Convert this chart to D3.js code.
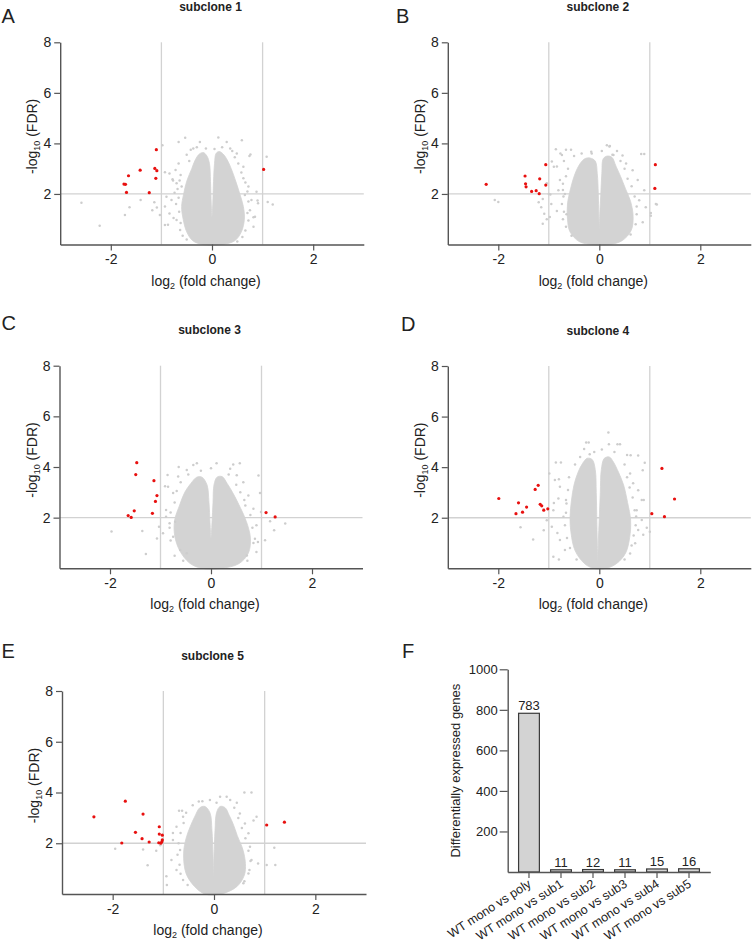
<!DOCTYPE html>
<html>
<head>
<meta charset="utf-8">
<script src="https://cdn.jsdelivr.net/npm/d3@7/dist/d3.min.js"></script>
<style>
  html, body { margin: 0; padding: 0; background: #fff; }
  svg { display: block; }
  text { font-family: "Liberation Sans", Arial, sans-serif; fill: #222; }
</style>
</head>
<body>
<svg id="fig" width="753" height="945"></svg>
<script>
// ---------------- DATA ----------------
const panelTitles = ["subclone 1", "subclone 2", "subclone 3", "subclone 4", "subclone 5"];
const panelLetters = ["A", "B", "C", "D", "E", "F"];
const xTickValues = [-2, 0, 2];
const yTickValues = [2, 4, 6, 8];

// dense-cloud outlines [log2FC, -log10FDR]
const cloud1 = [[-0.18,0],[-0.38,0.15],[-0.5,0.5],[-0.57,1.0],[-0.6,1.5],[-0.56,2.0],[-0.5,2.5],[-0.4,3.0],[-0.33,3.35],[-0.25,3.58],[-0.17,3.64],[-0.1,3.5],[-0.05,3.2],[-0.03,2.5],[-0.015,1.6],[0,1.1],[0.015,1.6],[0.03,2.5],[0.05,3.2],[0.08,3.6],[0.14,3.68],[0.22,3.58],[0.3,3.35],[0.38,3.0],[0.47,2.5],[0.55,2.0],[0.62,1.5],[0.64,1.0],[0.58,0.5],[0.45,0.15],[0.2,0]];
const cloud2 = [[-0.15,0],[-0.4,0.12],[-0.58,0.5],[-0.63,1.0],[-0.63,1.6],[-0.57,2.2],[-0.48,2.8],[-0.38,3.2],[-0.28,3.4],[-0.18,3.42],[-0.08,3.3],[-0.04,2.8],[-0.02,2.0],[-0.01,1.2],[0,0.6],[0.01,1.2],[0.03,2.0],[0.05,2.8],[0.08,3.4],[0.16,3.5],[0.25,3.45],[0.33,3.1],[0.42,2.7],[0.52,2.2],[0.62,1.7],[0.67,1.1],[0.63,0.55],[0.45,0.15],[0.2,0]];
const cloud3 = [[-0.18,0],[-0.42,0.2],[-0.62,0.7],[-0.72,1.3],[-0.72,1.9],[-0.62,2.5],[-0.52,3.0],[-0.4,3.35],[-0.28,3.6],[-0.18,3.6],[-0.08,3.3],[-0.04,2.6],[-0.02,1.8],[0,1.2],[0.02,1.8],[0.04,2.6],[0.06,3.3],[0.12,3.6],[0.22,3.62],[0.32,3.35],[0.44,2.95],[0.58,2.4],[0.7,1.85],[0.78,1.2],[0.74,0.6],[0.55,0.18],[0.2,0]];
const cloud4 = [[-0.12,0],[-0.3,0.2],[-0.48,0.7],[-0.56,1.4],[-0.58,2.0],[-0.55,2.7],[-0.5,3.3],[-0.42,3.8],[-0.33,4.15],[-0.24,4.35],[-0.14,4.3],[-0.08,3.9],[-0.06,3.0],[-0.05,2.0],[-0.04,1.0],[-0.03,0.3],[-0.02,1.0],[0.0,2.0],[0.02,3.0],[0.04,3.9],[0.1,4.35],[0.2,4.4],[0.28,4.2],[0.38,3.8],[0.48,3.3],[0.56,2.6],[0.62,1.9],[0.6,1.2],[0.52,0.6],[0.35,0.2],[0.14,0]];
const cloud5 = [[-0.18,0],[-0.38,0.29],[-0.55,0.8],[-0.6,1.6],[-0.55,2.2],[-0.47,2.65],[-0.38,3.05],[-0.28,3.4],[-0.18,3.45],[-0.08,3.2],[-0.04,2.5],[-0.02,1.5],[-0.01,0.7],[0.0,1.5],[0.02,2.5],[0.05,3.2],[0.12,3.45],[0.22,3.4],[0.3,3.1],[0.38,2.75],[0.46,2.3],[0.57,1.75],[0.62,1.2],[0.6,0.75],[0.45,0.29],[0.14,0]];

// scattered non-significant genes (grey)
const grey1 = [[-2.58,1.65],[-2.22,0.74],[-1.41,1.76],[-1.63,1.47],[-1.72,1.17],[-1.14,1.67],[-1.09,1.46],[-1.18,1.36],[-0.98,3.93],[-1.03,1.17],[-0.53,4.22],[-0.66,4.06],[0.125,4.23],[0.59,4.12],[0.76,3.56],[1.08,3.47],[1.2,1.58],[1.1,1.68],[0.9,1.74],[0.82,1.08],[-0.93,2.86],[-0.77,2.53],[-0.87,0.78],[0.74,3.5],[-0.84,2.81],[-0.78,2.58],[-0.7,2.42],[-0.64,2.53],[-0.6,2.29],[-0.9,1.89],[-0.8,1.76],[-0.93,1.5],[-0.84,1.23],[-0.7,0.97],[-0.93,0.77],[-0.63,0.57],[0.62,2.62],[0.72,2.29],[0.65,1.96],[0.78,1.76],[0.88,2.09],[0.75,1.36],[0.85,1.1],[0.91,1.63],[0.82,0.7],[0.62,3.08],[0.49,3.6],[-0.37,3.8],[-0.24,4.06],[0.29,4.06],[0.36,3.8],
  [-0.66,3.2],[-0.72,2.95],[-0.62,2.75],[-0.68,2.2],[-0.74,2.05],[-0.66,1.85],[-0.71,1.6],[-0.65,1.3],[-0.76,1.05],[-0.62,0.85],[-0.58,0.35],[-0.5,0.2],[-0.45,3.3],[-0.5,3.55],[-0.42,3.75],[-0.3,3.85],[0.45,3.45],[0.52,3.2],[0.58,2.85],[0.66,2.45],[0.7,2.1],[0.72,1.7],[0.7,1.25],[0.72,0.95],[0.66,0.55],[0.6,0.3],[0.5,0.12],[0.4,3.7],[0.2,3.85],[0.05,3.78],[-0.12,3.8]];
const grey2 = [[-2.07,1.76],[-2.0,1.68],[-0.86,3.77],[-0.66,3.75],[-0.56,3.75],[-0.77,3.6],[0.2,3.88],[0.26,3.55],[0.46,3.52],[0.83,3.58],[0.89,3.58],[1.14,1.58],[1.02,1.25],[0.86,0.88],[-1.12,0.82],[-1.09,1.22],[-1.2,1.67],[-0.98,1.09],[-0.9,3.08],[-0.97,1.98],[-0.72,2.16],[-0.16,3.67],[-0.15,3.6],[-0.74,3.54],[-0.94,3.28],[-0.84,3.09],[-1.04,2.42],[-1.0,2.0],[-1.12,1.8],[-1.15,1.47],[-0.95,1.6],[-0.84,1.33],[-1.04,1.0],[-0.78,2.55],[-0.81,2.15],[-0.71,1.9],[-0.65,1.2],[0.15,3.93],[0.21,3.9],[0.28,3.54],[0.53,3.2],[0.66,2.94],[0.76,2.55],[0.89,2.15],[0.79,1.75],[0.92,1.47],[1.02,1.14],[1.12,1.6],
  [-0.7,3.3],[-0.62,3.0],[-0.66,2.7],[-0.72,2.4],[-0.68,2.0],[-0.74,1.6],[-0.7,1.3],[-0.72,1.0],[-0.66,0.7],[-0.55,0.35],[-0.5,3.5],[-0.35,3.6],[0.42,3.3],[0.5,3.0],[0.56,2.6],[0.64,2.3],[0.7,1.9],[0.74,1.5],[0.74,1.2],[0.72,0.8],[0.62,0.4],[0.35,3.7],[0.05,3.7]];
const grey3 = [[-1.97,1.45],[-1.36,1.47],[-1.29,0.56],[-1.07,1.18],[-1.03,1.64],[-0.86,3.68],[-0.85,3.22],[-0.64,4.0],[-0.28,4.15],[0.11,4.15],[0.44,4.1],[0.57,4.15],[0.94,3.66],[0.97,2.97],[0.99,2.22],[1.17,1.86],[1.25,1.5],[1.47,1.77],[1.07,1.11],[0.93,1.04],[-0.89,2.3],[-0.71,1.84],[-0.91,3.24],[-0.75,2.97],[-0.89,2.04],[-0.82,1.78],[-0.95,1.38],[-0.75,1.25],[-0.61,0.72],[-0.48,0.59],[-0.65,3.62],[-0.48,3.88],[-0.35,4.08],[0.38,3.93],[0.51,3.67],[0.64,3.4],[0.74,2.87],[0.84,2.35],[0.9,1.7],[0.87,1.17],[0.9,0.64],[0.71,0.51],[0.68,2.48],
  [-0.6,3.4],[-0.68,3.05],[-0.72,2.6],[-0.8,2.2],[-0.82,1.6],[-0.8,1.1],[-0.72,0.5],[-0.55,0.3],[-0.45,3.7],[-0.2,3.85],[0.35,3.7],[0.5,3.3],[0.58,3.0],[0.66,2.7],[0.78,2.1],[0.82,1.6],[0.84,1.0],[0.72,0.3],[0.0,3.95]];
const grey4 = [[0.18,5.37],[-0.26,4.97],[-0.21,4.97],[0.19,4.91],[0.36,4.91],[0.41,4.91],[-0.3,4.72],[-0.19,4.51],[0.55,4.48],[0.62,4.47],[0.77,4.46],[0.9,4.17],[0.86,3.88],[-0.86,4.18],[-0.76,4.18],[-0.99,3.75],[-0.8,3.52],[-1.56,1.62],[-1.31,1.14],[-1.1,1.5],[-1.04,1.9],[-0.83,1.4],[-0.8,0.35],[0.87,1.33],[0.94,1.6],[1.0,1.45],[0.88,2.7],[0.73,2.05],[-0.9,2.58],[-0.88,3.49],[-0.78,3.22],[-0.81,2.76],[-0.91,2.3],[-0.71,2.04],[-0.94,1.64],[-0.78,1.12],[-0.68,0.72],[-0.65,2.56],[0.61,3.75],[0.67,3.36],[0.77,3.09],[0.84,2.7],[0.74,2.3],[0.84,1.91],[0.77,1.51],[0.71,0.99],[0.61,0.59],[-0.91,0.46],
  [-0.6,3.6],[-0.62,3.1],[-0.66,2.7],[-0.66,2.2],[-0.68,1.7],[-0.64,1.2],[-0.58,0.8],[-0.45,0.35],[-0.48,4.1],[-0.38,4.4],[-0.1,4.6],[0.5,4.1],[0.55,3.6],[0.6,3.2],[0.66,2.8],[0.7,2.3],[0.72,1.7],[0.68,1.3],[0.64,0.9],[0.5,0.35],[0.3,4.6],[0.05,4.7]];
const grey5 = [[0.6,4.0],[0.74,4.0],[0.12,3.83],[0.25,3.83],[-0.23,3.66],[-0.69,3.28],[-0.63,3.28],[0.84,3.04],[0.78,2.9],[1.19,1.82],[1.21,1.14],[1.04,1.14],[0.87,1.2],[-1.31,1.13],[-1.4,1.75],[-1.14,1.7],[-1.06,1.92],[-0.94,0.7],[-0.93,0.35],[-0.81,2.4],[-1.95,1.78],[-0.61,3.04],[-0.74,2.65],[-0.81,2.13],[-0.67,1.73],[-0.84,1.34],[-0.74,0.95],[-0.61,0.55],[0.51,3.17],[0.61,2.78],[0.68,2.39],[0.71,1.86],[0.74,1.34],[0.68,0.81],[0.58,0.42],[0.32,3.7],[-0.08,3.7],
  [-0.55,3.2],[-0.6,2.8],[-0.66,2.4],[-0.7,2.0],[-0.72,1.55],[-0.68,1.15],[-0.66,0.8],[-0.52,0.35],[-0.42,3.5],[-0.3,3.65],[0.4,3.4],[0.48,3.0],[0.55,2.6],[0.62,2.2],[0.68,1.7],[0.72,1.3],[0.7,0.95],[0.6,0.5],[0.45,3.6],[0.05,3.6]];

// significant genes (red)
const red1 = [[-1.10,3.75],[-1.42,2.94],[-1.65,2.72],[-1.74,2.39],[-1.71,2.38],[-1.69,2.06],[-1.24,2.05],[-1.13,3.01],[-1.09,2.92],[-1.11,2.62],[1.02,2.97]];
const red2 = [[-2.24,2.38],[-1.47,2.71],[-1.46,2.40],[-1.45,2.28],[-1.34,2.10],[-1.25,2.13],[-1.19,2.01],[-1.18,2.60],[-1.06,3.16],[-1.06,2.35],[1.11,3.16],[1.10,2.22]];
const red3 = [[-1.47,4.17],[-1.49,3.70],[-1.13,3.46],[-1.07,2.87],[-1.10,2.64],[-1.16,2.17],[-1.52,2.27],[-1.64,2.08],[-1.58,2.01],[1.09,2.20],[1.27,2.03]];
const red4 = [[-1.99,2.76],[-1.60,2.59],[-1.65,2.16],[-1.52,2.22],[-1.44,2.42],[-1.27,3.12],[-1.21,3.28],[-1.17,2.53],[-1.14,2.47],[-1.10,2.30],[-1.02,2.35],[1.24,3.95],[1.49,2.74],[1.04,2.16],[1.29,2.04]];
const red5 = [[-2.37,3.04],[-1.75,3.66],[-1.40,3.15],[-1.55,2.43],[-1.42,2.18],[-1.28,2.05],[-1.82,2.01],[-1.08,2.65],[-1.08,2.36],[-1.02,2.32],[-1.02,2.13],[-1.09,2.02],[-1.03,2.06],[-1.05,2.00],[1.04,2.72],[1.39,2.83]];

// bar chart (F)
const barCategories = ["WT mono vs poly", "WT mono vs sub1", "WT mono vs sub2", "WT mono vs sub3", "WT mono vs sub4", "WT mono vs sub5"];
const barValues = [783, 11, 12, 11, 15, 16];
const barTickValues = [200, 400, 600, 800, 1000];

// ---------------- LAYOUT ----------------
const svg = d3.select("#fig");
const volcanoLayout = [
  {x0: 60.2, x1: 363.8, yt: 42.3, yb: 244.5, lx: 1.5, ly: 23.3},
  {x0: 447.8, x1: 750.8, yt: 42.3, yb: 244.5, lx: 396, ly: 22.7},
  {x0: 59.5, x1: 362.5, yt: 365.7, yb: 568.3, lx: 1.5, ly: 330},
  {x0: 447.8, x1: 750.8, yt: 366, yb: 568.3, lx: 401, ly: 330.5},
  {x0: 62, x1: 366, yt: 691, yb: 894, lx: 1.5, ly: 658.3}
];
const clouds = [cloud1, cloud2, cloud3, cloud4, cloud5];
const greys = [grey1, grey2, grey3, grey4, grey5];
const reds = [red1, red2, red3, red4, red5];

const axisColor = "#555";
const refColor = "#d2d2d2";
const cloudColor = "#d3d3d3";

function styleAxis(g, fontSize) {
  g.select(".domain").attr("stroke", axisColor).attr("stroke-width", 1.4);
  g.selectAll(".tick line").attr("stroke", axisColor).attr("stroke-width", 1.2);
  g.selectAll(".tick text").attr("fill", "#222").attr("font-size", fontSize)
    .attr("font-family", '"Liberation Sans", Arial, sans-serif');
}

volcanoLayout.forEach((L, i) => {
  const x = d3.scaleLinear().domain([-3, 3]).range([L.x0, L.x1]);
  const y = d3.scaleLinear().domain([0, 8]).range([L.yb, L.yt]);
  const g = svg.append("g");

  // reference lines
  g.append("line").attr("x1", L.x0).attr("x2", L.x1).attr("y1", y(2)).attr("y2", y(2))
    .attr("stroke", refColor).attr("stroke-width", 1.3);
  [-1, 1].forEach(v => {
    g.append("line").attr("x1", x(v)).attr("x2", x(v)).attr("y1", y(8)).attr("y2", y(0))
      .attr("stroke", refColor).attr("stroke-width", 1.3);
  });

  // dense cloud
  const line = d3.line().x(d => x(d[0])).y(d => y(d[1])).curve(d3.curveCatmullRomClosed.alpha(0.5));
  g.append("path").attr("d", line(clouds[i])).attr("fill", cloudColor).attr("stroke", cloudColor).attr("stroke-width", 0.8);

  // scattered grey
  g.selectAll(".gp").data(greys[i]).enter().append("circle")
    .attr("cx", d => x(d[0])).attr("cy", d => y(d[1])).attr("r", 1.25).attr("fill", "#cdcdcd");

  // red
  g.selectAll(".rp").data(reds[i]).enter().append("circle")
    .attr("cx", d => x(d[0])).attr("cy", d => y(d[1])).attr("r", 1.6).attr("fill", "#e8100f");

  // axes
  const ya = g.append("g").attr("transform", `translate(${L.x0},0)`)
    .call(d3.axisLeft(y).tickValues(yTickValues).tickSize(6).tickSizeOuter(0).tickPadding(3).tickFormat(d3.format("d")));
  styleAxis(ya, 14);
  const xa = g.append("g").attr("transform", `translate(0,${L.yb})`)
    .call(d3.axisBottom(x).tickValues(xTickValues).tickSize(6).tickSizeOuter(0).tickPadding(4).tickFormat(d => d < 0 ? "-" + Math.abs(d) : String(d)));
  styleAxis(xa, 14);

  // title
  g.append("text").attr("x", x(0) - 1.5).attr("y", L.yt - 31.5).attr("text-anchor", "middle")
    .attr("font-size", 12).attr("font-weight", "bold").text(panelTitles[i]);
  // letter
  g.append("text").attr("x", L.lx).attr("y", L.ly).attr("font-size", 20).text(panelLetters[i]);

  // x label
  const xl = g.append("text").attr("x", x(0) - 6).attr("y", L.yb + 41).attr("text-anchor", "middle").attr("font-size", 14);
  xl.append("tspan").text("log");
  xl.append("tspan").attr("dy", 3).attr("font-size", 9).text("2");
  xl.append("tspan").attr("dy", -3).text(" (fold change)");

  // y label
  const cy = (L.yt + L.yb) / 2 - 7;
  const yl = g.append("text").attr("transform", `translate(${L.x0 - 23},${cy}) rotate(-90)`)
    .attr("text-anchor", "middle").attr("font-size", 14);
  yl.append("tspan").text("-log");
  yl.append("tspan").attr("dy", 3).attr("font-size", 9).text("10");
  yl.append("tspan").attr("dy", -3).text(" (FDR)");
});

// ---------------- BAR CHART F ----------------
(function () {
  const X0 = 507.7, X1 = 710.3, YT = 669.3, YB = 872;
  const x = d3.scaleBand().domain(barCategories).range([X0, X1]).paddingInner(0.35).paddingOuter(0.34);
  const y = d3.scaleLinear().domain([0, 1000]).range([YB, YT]);
  const g = svg.append("g");

  g.selectAll(".bar").data(barValues).enter().append("rect")
    .attr("x", (d, i) => x(barCategories[i])).attr("width", x.bandwidth())
    .attr("y", d => y(d)).attr("height", d => YB - y(d))
    .attr("fill", "#d3d3d3").attr("stroke", "#3a3a3a").attr("stroke-width", 1.2);

  g.selectAll(".bl").data(barValues).enter().append("text")
    .attr("x", (d, i) => x(barCategories[i]) + x.bandwidth() / 2)
    .attr("y", d => y(d) - 3).attr("text-anchor", "middle").attr("font-size", 13).text(d => d);

  const ya = g.append("g").attr("transform", `translate(${X0},0)`)
    .call(d3.axisLeft(y).tickValues(barTickValues).tickSize(8).tickSizeOuter(0).tickPadding(2).tickFormat(d3.format("d")));
  styleAxis(ya, 13);

  const xa = g.append("g").attr("transform", `translate(0,${YB})`)
    .call(d3.axisBottom(x).tickSize(6).tickSizeOuter(0).tickFormat(""));
  xa.select(".domain").attr("stroke", axisColor).attr("stroke-width", 1.4);
  xa.selectAll(".tick line").attr("stroke", axisColor).attr("stroke-width", 1.2);

  g.selectAll(".cl").data(barCategories).enter().append("text")
    .attr("transform", d => `translate(${x(d) + x.bandwidth() / 2 + 3},${YB + 14}) rotate(-33)`)
    .attr("text-anchor", "end").attr("font-size", 12.5).text(d => d);

  g.append("text").attr("transform", `translate(460,${(YT + YB) / 2 - 0}) rotate(-90)`)
    .attr("text-anchor", "middle").attr("font-size", 13).text("Differentially expressed genes");

  g.append("text").attr("x", 402).attr("y", 658).attr("font-size", 20).text(panelLetters[5]);
})();
</script>
</body>
</html>
